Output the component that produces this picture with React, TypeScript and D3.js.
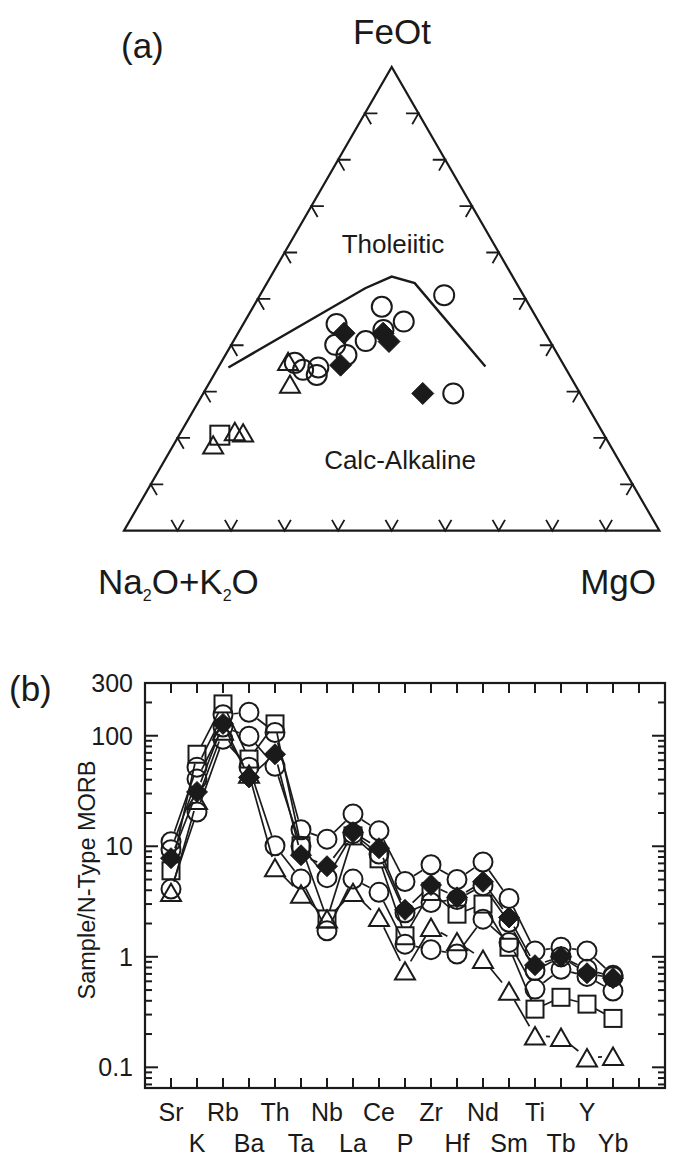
import React from "react";
import * as d3 from "d3";

// ---------- (a) ternary AFM data: [FeOt, Na2O+K2O, MgO] in % ----------
const ternCircles: [number, number, number][] = [
  [50.8, 14.8, 34.4], [48.3, 27.7, 24.0], [45.1, 25.2, 29.7], [44.6, 38.0, 17.4],
  [40.9, 34.4, 24.7], [40.1, 40.5, 19.4], [37.9, 39.5, 22.6], [36.2, 50.0, 13.8],
  [34.7, 49.2, 16.1], [35.2, 46.1, 18.7], [33.6, 47.2, 19.2], [29.6, 23.7, 46.7],
  [43.3, 29.9, 26.8],
];
const ternDiamonds: [number, number, number][] = [
  [42.6, 37.6, 19.8], [42.6, 30.3, 27.1], [40.8, 30.1, 29.1], [35.7, 41.7, 22.6], [29.6, 29.4, 41.0],
];
const ternTriangles: [number, number, number][] = [
  [36.5, 51.1, 12.4], [31.6, 53.2, 15.2], [18.5, 74.1, 7.4], [21.4, 68.6, 10.0], [21.1, 67.2, 11.7],
];
const ternSquares: [number, number, number][] = [[20.6, 71.8, 7.6]];
const boundaryLine: [number, number, number][] = [
  [35.2, 62.9, 1.9], [52.3, 28.8, 18.9], [54.8, 22.6, 22.6], [53.4, 19.0, 27.6], [35.4, 14.8, 49.8],
];
const ternTicks = [10, 20, 30, 40, 50, 60, 70, 80, 90];

// ---------- (b) spider diagram data (Sample / N-type MORB) ----------
const categories = ["Sr", "K", "Rb", "Ba", "Th", "Ta", "Nb", "La", "Ce", "P", "Zr", "Hf", "Nd", "Sm", "Ti", "Tb", "Y", "Yb"];
const circleSeries1 = [11, 52, 155, 163, 107, 14.1, 11.6, 19.6, 13.8, 4.8, 6.8, 5.0, 7.2, 3.37, 1.13, 1.22, 1.13, 0.68];
const circleSeries2 = [9.3, 40.5, 120, 99, 53, 10, 5.2, 13, 8.5, 2.5, 3.1, 3.3, 4.4, 2.05, 0.75, 1.0, 0.77, 0.66];
const circleSeries3 = [4.1, 20.4, 93, 52, 10.1, 5.05, 1.72, 5.05, 3.83, 1.3, 1.16, 1.06, 2.19, 1.35, 0.51, 0.77, 0.665, 0.49];
const triangleSeries = [3.83, 26, 110, 45, 6.4, 3.7, 2.2, 3.83, 2.27, 0.747, 1.85, 1.37, 0.95, 0.49, 0.193, 0.187, 0.122, 0.126];
const squareSeries = [6.0, 68, 194, 61.5, 128, 10.1, 2.2, 12.4, 7.7, 1.55, 3.9, 2.43, 3.0, 1.22, 0.336, 0.43, 0.373, 0.277];
const diamondSeries = [7.8, 31, 128, 42, 68, 8.3, 6.6, 13.4, 9.6, 2.66, 4.46, 3.45, 4.77, 2.27, 0.84, 1.0, 0.71, 0.64];
const yTickLabels = [0.1, 1, 10, 100, 300];

const FONT = "'Liberation Sans', Arial, Helvetica, sans-serif";
const INK = "#1a1a1a";

type Sym = "circle" | "square" | "diamond" | "triangle";

function Marker({ x, y, sym, size, sw = 2 }: { x: number; y: number; sym: Sym; size: number; sw?: number }) {
  if (sym === "circle") return <circle cx={x} cy={y} r={size / 2} fill="none" stroke={INK} strokeWidth={sw} />;
  if (sym === "square")
    return <rect x={x - size / 2} y={y - size / 2} width={size} height={size} fill="none" stroke={INK} strokeWidth={sw} />;
  if (sym === "diamond") {
    const h = size / 2 + 1;
    return <path d={`M${x},${y - h}L${x + h},${y}L${x},${y + h}L${x - h},${y}Z`} fill={INK} stroke={INK} strokeWidth={1} />;
  }
  const s = size;
  const hh = s * 0.866;
  return (
    <path
      d={`M${x},${y - hh / 2}L${x + s / 2},${y + hh / 2}L${x - s / 2},${y + hh / 2}Z`}
      fill="none"
      stroke={INK}
      strokeWidth={sw}
      strokeLinejoin="miter"
    />
  );
}

export default function App() {
  // ----- ternary geometry -----
  const L = { x: 124, y: 530.7 };
  const side = 535.4;
  const height = side * Math.sqrt(3) / 2;
  const sx = d3.scaleLinear().domain([0, 100]).range([0, side]);
  const sy = d3.scaleLinear().domain([0, 100]).range([0, height]);
  const tern = (f: number, _a: number, m: number): [number, number] => [L.x + sx(m) + sx(f) / 2, L.y - sy(f)];
  const Rv = tern(0, 0, 100);
  const Tv = tern(100, 0, 0);
  const lineGen = d3.line();
  const tickLen = 12.5;
  const c60 = 0.5, s60 = Math.sqrt(3) / 2;
  const tickPaths: string[] = [];
  ternTicks.forEach((t) => {
    const b = tern(0, 100 - t, t);
    tickPaths.push(lineGen([[b[0] - tickLen * c60, b[1] - tickLen * s60], b, [b[0] + tickLen * c60, b[1] - tickLen * s60]])!);
    const l = tern(t, 100 - t, 0);
    tickPaths.push(lineGen([[l[0] + tickLen, l[1]], l, [l[0] + tickLen * c60, l[1] + tickLen * s60]])!);
    const r = tern(t, 0, 100 - t);
    tickPaths.push(lineGen([[r[0] - tickLen, r[1]], r, [r[0] - tickLen * c60, r[1] + tickLen * s60]])!);
  });

  // ----- spider geometry -----
  const px0 = 145, px1 = 665, py0 = 683, py1 = 1088;
  const x = d3.scaleLinear().domain([-1, 19]).range([px0, px1]);
  const y = d3.scaleLog().domain([0.065, 300]).range([py1, py0]);
  const xTicks = d3.range(0, 19);
  const minorVals: number[] = [];
  [0.01, 0.1, 1, 10, 100].forEach((d) => {
    for (let k = 1; k <= 9; k++) {
      const v = d * k;
      if (v >= 0.065 && v <= 300) minorVals.push(v);
    }
  });
  const isMajor = (v: number) => Math.abs(Math.log10(v) - Math.round(Math.log10(v))) < 1e-6;

  const series: { vals: number[]; sym: Sym; size: number }[] = [
    { vals: circleSeries1, sym: "circle", size: 19 },
    { vals: circleSeries2, sym: "circle", size: 19 },
    { vals: circleSeries3, sym: "circle", size: 19 },
    { vals: triangleSeries, sym: "triangle", size: 20 },
    { vals: squareSeries, sym: "square", size: 17 },
    { vals: diamondSeries, sym: "diamond", size: 19 },
  ];

  const gapSeg = (vals: number[], gap: number) => {
    const segs: string[] = [];
    for (let i = 0; i < vals.length - 1; i++) {
      const x1 = x(i), y1 = y(vals[i]), x2 = x(i + 1), y2 = y(vals[i + 1]);
      const dx = x2 - x1, dy = y2 - y1;
      const len = Math.hypot(dx, dy);
      if (len <= 2 * gap) continue;
      const ux = dx / len, uy = dy / len;
      segs.push(lineGen([[x1 + ux * gap, y1 + uy * gap], [x2 - ux * gap, y2 - uy * gap]])!);
    }
    return segs;
  };

  return (
    <svg width={684} height={1159} style={{ position: "absolute", left: 0, top: 0, background: "#fff" }} fontFamily={FONT}>
      <rect width={684} height={1159} fill="#fff" />
      {/* ===== (a) ===== */}
      <text x={121} y={58} fontSize={35} fill={INK}>(a)</text>
      <text x={392} y={44} fontSize={35} fill={INK} textAnchor="middle">FeOt</text>
      <text x={98} y={594} fontSize={35} fill={INK}>
        Na<tspan fontSize={16} dy={7}>2</tspan>
        <tspan dy={-7}>O+K</tspan>
        <tspan fontSize={16} dy={7}>2</tspan>
        <tspan dy={-7}>O</tspan>
      </text>
      <text x={656} y={594} fontSize={35} fill={INK} textAnchor="end">MgO</text>
      <text x={393} y={253} fontSize={26} fill={INK} textAnchor="middle">Tholeiitic</text>
      <text x={400} y={469} fontSize={26} fill={INK} textAnchor="middle">Calc-Alkaline</text>

      <path d={lineGen([[L.x, L.y], Rv, Tv])! + "Z"} fill="none" stroke={INK} strokeWidth={2.2} strokeLinejoin="miter" />
      {tickPaths.map((d, i) => (
        <path key={i} d={d} fill="none" stroke={INK} strokeWidth={1.8} />
      ))}
      <path d={lineGen(boundaryLine.map((p) => tern(p[0], p[1], p[2])))!} fill="none" stroke={INK} strokeWidth={2.4} />

      {ternCircles.map((p, i) => {
        const [cx, cy] = tern(p[0], p[1], p[2]);
        return <Marker key={"tc" + i} x={cx} y={cy} sym="circle" size={20} />;
      })}
      {ternDiamonds.map((p, i) => {
        const [cx, cy] = tern(p[0], p[1], p[2]);
        return <Marker key={"td" + i} x={cx} y={cy} sym="diamond" size={20} />;
      })}
      {ternTriangles.map((p, i) => {
        const [cx, cy] = tern(p[0], p[1], p[2]);
        return <Marker key={"tt" + i} x={cx} y={cy} sym="triangle" size={20} />;
      })}
      {ternSquares.map((p, i) => {
        const [cx, cy] = tern(p[0], p[1], p[2]);
        return <Marker key={"ts" + i} x={cx} y={cy} sym="square" size={19} />;
      })}

      {/* ===== (b) ===== */}
      <text x={9} y={701} fontSize={35} fill={INK}>(b)</text>
      <text transform={`translate(95,880) rotate(-90)`} fontSize={23.5} fill={INK} textAnchor="middle">
        Sample/N-Type MORB
      </text>
      {yTickLabels.map((v) => (
        <text key={v} x={133} y={y(v)} dy="0.36em" fontSize={25} fill={INK} textAnchor="end">
          {v}
        </text>
      ))}
      {categories.map((c, i) => (
        <text key={c} x={x(i)} y={i % 2 === 0 ? 1121 : 1152} fontSize={25} fill={INK} textAnchor="middle">
          {c}
        </text>
      ))}

      <rect x={px0} y={py0} width={px1 - px0} height={py1 - py0} fill="none" stroke={INK} strokeWidth={2.2} />
      {xTicks.map((t) => (
        <g key={"xt" + t}>
          <line x1={x(t)} x2={x(t)} y1={py0} y2={py0 + 10} stroke={INK} strokeWidth={2} />
          <line x1={x(t)} x2={x(t)} y1={py1} y2={py1 - 10} stroke={INK} strokeWidth={2} />
        </g>
      ))}
      {minorVals.map((v) => {
        const len = isMajor(v) ? 13 : 7;
        return (
          <g key={"yt" + v}>
            <line x1={px0} x2={px0 + len} y1={y(v)} y2={y(v)} stroke={INK} strokeWidth={2} />
            <line x1={px1} x2={px1 - len} y1={y(v)} y2={y(v)} stroke={INK} strokeWidth={2} />
          </g>
        );
      })}

      {series.map((s, si) => (
        <g key={"s" + si}>
          {gapSeg(s.vals, s.size / 2 + 1).map((d, i) => (
            <path key={i} d={d} fill="none" stroke={INK} strokeWidth={1.7} />
          ))}
          {s.vals.map((v, i) => (
            <Marker key={i} x={x(i)} y={y(v)} sym={s.sym} size={s.size} />
          ))}
        </g>
      ))}
    </svg>
  );
}
